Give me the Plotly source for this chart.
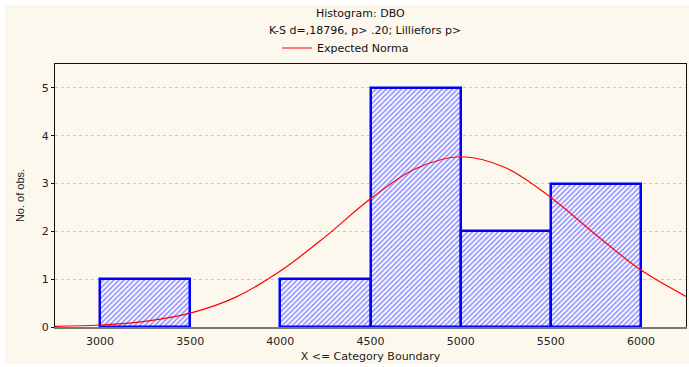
import plotly.graph_objects as go

# ---- data ----
bin_lower = [3000, 3500, 4000, 4500, 5000, 5500]
bin_counts = [1, 0, 1, 5, 2, 3]
bin_width = 500

curve_x = [2750, 3000, 3250, 3500, 3750, 4000, 4250, 4500, 4750, 5000,
           5250, 5500, 5750, 6000, 6250]
curve_y = [0.013, 0.042, 0.119, 0.29, 0.62, 1.17, 1.89, 2.68, 3.31, 3.56,
           3.33, 2.71, 1.93, 1.19, 0.64]

x_ticks = [3000, 3500, 4000, 4500, 5000, 5500, 6000]
y_ticks = [0, 1, 2, 3, 4, 5]

title1 = "Histogram: DBO"
title2 = "K-S d=,18796, p> .20; Lilliefors p>"
legend_name = "Expected Norma"
x_title = "X <= Category Boundary"
y_title = "No. of obs."

W, H = 689, 367
L, R, T, B = 55, 3, 64, 40
pw, ph = W - L - R, H - T - B

def px_x(px):
    return (px - L) / pw

def px_y(py):
    return (H - B - py) / ph

FONT = "DejaVu Sans, Verdana, sans-serif"
CREAM = "#fdf8ee"

# no outline for empty bins
bar_line_w = [2.5 if c > 0 else 0 for c in bin_counts]

fig = go.Figure()
fig.add_trace(go.Bar(
    x=bin_lower, y=bin_counts, width=bin_width, offset=0,
    marker=dict(color="white",
                line=dict(color="#0000ff", width=bar_line_w),
                pattern=dict(shape="/", fgcolor="#3030ff", bgcolor="white",
                             size=3.6, solidity=0.5)),
    showlegend=False, hoverinfo="skip"))
fig.add_trace(go.Scatter(
    x=curve_x, y=curve_y, mode="lines", name=legend_name,
    line=dict(color="#ff0000", width=1.2, shape="spline"),
    showlegend=True))

fig.add_shape(type="rect", xref="paper", yref="paper",
              x0=px_x(5), x1=px_x(689), y0=px_y(364), y1=px_y(5),
              fillcolor=CREAM, line=dict(width=0), layer="below")

fig.add_annotation(text=title1, xref="paper", yref="paper",
                   x=px_x(360), y=px_y(13), showarrow=False,
                   xanchor="center", yanchor="middle",
                   font=dict(family=FONT, size=11, color="#111"))
fig.add_annotation(text=title2, xref="paper", yref="paper",
                   x=px_x(365), y=px_y(31), showarrow=False,
                   xanchor="center", yanchor="middle",
                   font=dict(family=FONT, size=11, color="#111"))

fig.update_layout(
    width=W, height=H,
    margin=dict(l=L, r=R, t=T, b=B, pad=0),
    paper_bgcolor="white", plot_bgcolor="white",
    bargap=0,
    font=dict(family=FONT, size=11, color="#222"),
    legend=dict(x=px_x(277), y=px_y(48), xanchor="left", yanchor="middle",
                orientation="h", bgcolor="rgba(0,0,0,0)",
                font=dict(family=FONT, size=11, color="#111"),
                itemwidth=30, tracegroupgap=0),
    xaxis=dict(range=[2750, 6250], tickvals=x_ticks,
               ticktext=[str(v) for v in x_ticks],
               showgrid=False, zeroline=False,
               showline=True, linecolor="#777", linewidth=2,
               mirror=False, ticks="", ticklabelstandoff=3,
               tickfont=dict(family=FONT, size=11, color="#222"),
               title=dict(text=x_title, standoff=5,
                          font=dict(family=FONT, size=11, color="#222"))),
    xaxis2=dict(overlaying="x", side="top", range=[2750, 6250],
                showticklabels=False, showgrid=False, zeroline=False,
                showline=True, linecolor="#111", linewidth=1),
    yaxis=dict(range=[0, 5.5], tickvals=y_ticks,
               showgrid=True, gridcolor="#c8c8c8", griddash="dot",
               gridwidth=1, zeroline=False,
               showline=True, linecolor="#111", linewidth=1,
               mirror=True, ticks="outside", ticklen=3, tickcolor="#111",
               tickfont=dict(family=FONT, size=11, color="#222"),
               title=dict(text=y_title, standoff=14,
                          font=dict(family="Liberation Sans Narrow, Arial Narrow, Liberation Sans, sans-serif",
                                    size=11, color="#222"))),
)
# invisible trace to activate the top axis line
fig.add_trace(go.Scatter(x=[None], y=[None], xaxis="x2", showlegend=False))

fig.write_html("out.html")
